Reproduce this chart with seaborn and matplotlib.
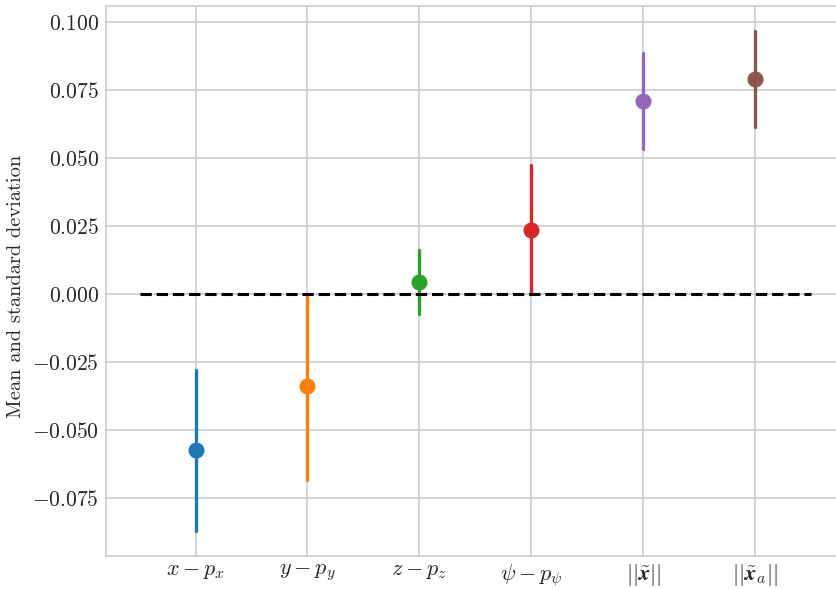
import numpy as np
import pandas as pd
import matplotlib
matplotlib.use("Agg")
import matplotlib.pyplot as plt
import seaborn as sns

# Error categories and their summary statistics (mean, lower / upper end of +-1 sd)
categories = [r"$x - p_x$", r"$y - p_y$", r"$z - p_z$",
              r"$\psi - p_\psi$", r"$||\tilde{\mathbfit{x}}||$", r"$||\tilde{\mathbfit{x}}_a||$"]
means = [-0.0576, -0.0340, 0.0044, 0.0236, 0.0708, 0.0790]
lower = [-0.0873, -0.0685, -0.0074, 0.0000, 0.0531, 0.0612]
upper = [-0.0280, 0.0000, 0.0161, 0.0474, 0.0887, 0.0967]
baseline = 0.0

sns.set_theme(style="whitegrid")
plt.rcParams["font.family"] = ["serif"]
plt.rcParams["font.serif"] = ["cmr10", "DejaVu Serif"]
plt.rcParams["mathtext.fontset"] = "cm"
plt.rcParams["axes.formatter.use_mathtext"] = True
plt.rcParams["axes.unicode_minus"] = True

rows = []
for c, lo, m, hi in zip(categories, lower, means, upper):
    for v in (lo, m, hi):
        rows.append({"quantity": c, "value": v})
df = pd.DataFrame(rows)

fig = plt.figure(figsize=(8.36, 5.89), dpi=100)
ax = fig.add_axes([0.1268, 0.056, 0.8835, 0.9338])

sns.pointplot(data=df, x="quantity", y="value", hue="quantity",
              palette="tab10", estimator="median",
              errorbar=lambda v: (v.min(), v.max()),
              linestyle="none", markersize=9.5, err_kws={"linewidth": 2.4},
              legend=False, ax=ax)

n = len(categories)
ax.plot([-0.5, n - 0.5], [baseline, baseline], color="black",
        linestyle="--", linewidth=2.2)
ax.margins(x=0.05, y=0.05)
ax.grid(True, axis="both", color="#cccccc", linewidth=1.2)
ax.set_axisbelow(True)

ax.set_xlabel("")
ax.set_ylabel("Mean and standard deviation", fontsize=14.7)
ax.yaxis.set_label_coords(-0.109, 0.49)
ax.tick_params(axis="y", labelsize=15.5, length=0, pad=5)
ax.tick_params(axis="x", labelsize=16, length=0, pad=4)
ax.set_yticks(np.arange(-0.075, 0.101, 0.025))

fig.savefig("out.png", dpi=100)
